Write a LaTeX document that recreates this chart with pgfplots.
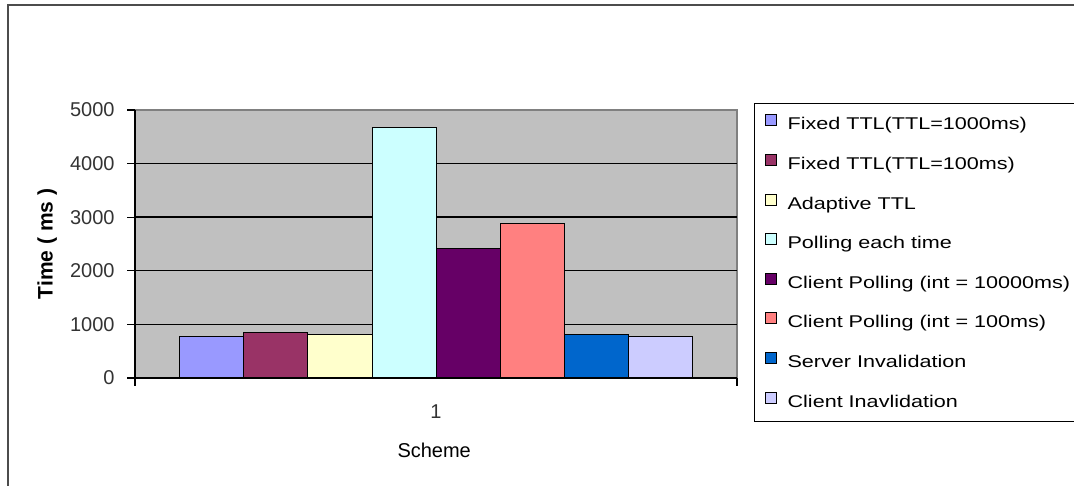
\documentclass[border=0pt]{standalone}
\usepackage{fontspec}
\setmainfont{Liberation Sans}
\newfontfamily\legfont[FakeStretch=1.27]{Liberation Sans}
\usepackage{pgfplots}
\pgfplotsset{compat=1.18}

\definecolor{plotgray}{HTML}{C0C0C0}
\definecolor{bordergray}{HTML}{808080}
\definecolor{cA}{HTML}{9999FF}
\definecolor{cB}{HTML}{993366}
\definecolor{cC}{HTML}{FFFFCC}
\definecolor{cD}{HTML}{CCFFFF}
\definecolor{cE}{HTML}{660066}
\definecolor{cF}{HTML}{FF8080}
\definecolor{cG}{HTML}{0066CC}
\definecolor{cH}{HTML}{CCCCFF}

\pgfplotsset{
  sqlegend/.style={legend image code/.code={%
    \draw[##1,draw=black,line width=0.5pt] (0pt,-0.3pt) rectangle (5.5pt,5.2pt);}},
}

\begin{document}
\begin{tikzpicture}
\useasboundingbox (0pt,0pt) rectangle (537pt,243pt);
% chart frame (runs off the right and bottom edges)
\draw[line width=1pt,draw=black!70] (4pt,240.5pt) rectangle (555pt,-15pt);
\begin{axis}[
  at={(67.5pt,54pt)}, anchor=south west,
  scale only axis, width=301pt, height=134pt,
  xmin=-0.5, xmax=0.5, ymin=0, ymax=5000,
  ybar=0pt, bar width=32pt,
  every axis plot/.append style={sqlegend, draw=black, line width=0.5pt},
  axis lines=left,
  axis line style={-, black, line width=0.6pt},
  axis background/.style={fill=plotgray, draw=bordergray, line width=0.6pt},
  tick align=outside, major tick length=4pt,
  tick style={black, line width=0.6pt},
  xtick={-0.5,0.5}, xticklabels={},
  extra x ticks={0}, extra x tick labels={1},
  extra x tick style={major tick length=0pt, xticklabel style={yshift=-10pt}},
  ytick={0,1000,2000,3000,4000},
  extra y ticks={5000}, extra y tick style={grid=none},
  ymajorgrids, grid style={black, line width=0.7pt},
  /pgf/number format/1000 sep={},
  /pgf/number format/assume math mode=true,
  ticklabel style={font=\fontsize{10}{12}\selectfont, text=black!80},
  yticklabel style={xshift=-2.7pt},
  xlabel={Scheme},
  xlabel style={at={(axis description cs:0.497,-0.27)}, anchor=center,
    font=\fontsize{10}{12}\selectfont},
  ylabel={Time ( ms )},
  ylabel style={at={(axis description cs:-0.146,0.5)}, anchor=center,
    font=\bfseries\fontsize{10.5}{12}\selectfont},
  legend cell align=left,
  legend style={at={(axis description cs:1.0282,1.0261)}, anchor=north west,
    draw=black, line width=0.6pt, fill=white,
    inner xsep=5pt, inner ysep=5.4pt, row sep=10.1pt, column sep=4pt,
    font=\legfont\fontsize{8.5}{10}\selectfont,
    nodes={inner ysep=0pt, inner xsep=1.5pt, text height=6.5pt,
      text depth=2pt}},
]
\addplot[fill=cA] coordinates {(0,780)};
\addplot[fill=cB] coordinates {(0,850)};
\addplot[fill=cC] coordinates {(0,810)};
\addplot[fill=cD] coordinates {(0,4680)};
\addplot[fill=cE] coordinates {(0,2420)};
\addplot[fill=cF] coordinates {(0,2890)};
\addplot[fill=cG] coordinates {(0,820)};
\addplot[fill=cH] coordinates {(0,780)};
% the legend box runs on past the right edge of the chart
\legend{Fixed TTL(TTL=1000ms), Fixed TTL(TTL=100ms), Adaptive TTL,
  Polling each time, Client Polling (int = 10000ms)\hspace*{30pt},
  Client Polling (int = 100ms), Server Invalidation, Client Inavlidation}
\end{axis}
\end{tikzpicture}
\end{document}
